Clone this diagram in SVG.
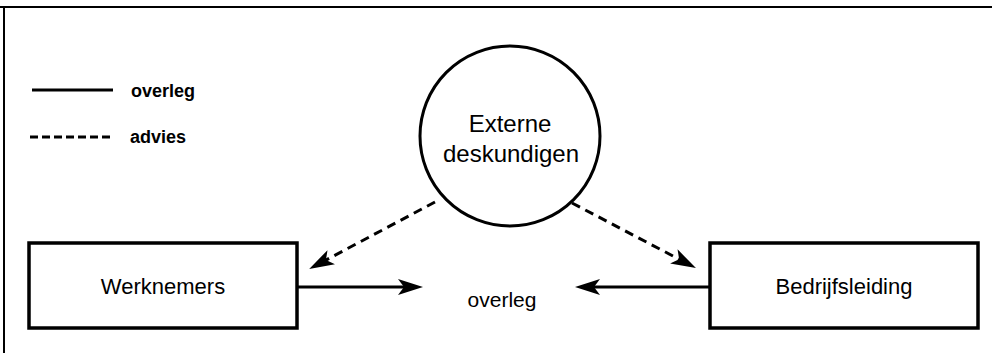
<svg xmlns="http://www.w3.org/2000/svg" width="992" height="353" viewBox="0 0 992 353">
<style>
  .ln { stroke:#000; stroke-width:3; fill:none; }
  .dash { stroke-dasharray:9 6; }
  .box { fill:#fff; stroke:#000; stroke-width:3.5; }
  .t { font-family:"Liberation Sans", Arial, sans-serif; fill:#000; text-anchor:middle; }
  .lg { font-family:"Liberation Sans", Arial, sans-serif; font-weight:bold; font-size:18px; fill:#000; }
</style>
<defs>
  <marker id="ah" viewBox="-36 -9 37 18" markerWidth="37" markerHeight="18" refX="-10" refY="0" orient="auto" markerUnits="userSpaceOnUse">
    <path d="M0,0 L-25,-8 L-19,0 L-25,8 Z" fill="#000"/>
  </marker>
</defs>
<rect width="992" height="353" fill="#fff"/>
<g id="frame">
  <line x1="0" y1="7" x2="992" y2="7" stroke="#000" stroke-width="2"/>
  <line x1="4" y1="6" x2="4" y2="353" stroke="#000" stroke-width="2"/>
</g>
<g id="legend">
  <line class="ln" x1="32" y1="90" x2="113" y2="90"/>
  <text class="lg" x="131" y="97">overleg</text>
  <line class="ln" x1="30" y1="137" x2="113" y2="137" stroke-dasharray="8 4"/>
  <text class="lg" x="130" y="143">advies</text>
</g>
<g id="connectors">
  <line class="ln" x1="298" y1="287" x2="413" y2="287" marker-end="url(#ah)"/>
  <line class="ln" x1="710" y1="287" x2="585" y2="287" marker-end="url(#ah)"/>
  <line class="ln dash" x1="435" y1="202" x2="318" y2="264.3" marker-end="url(#ah)"/>
  <line class="ln dash" x1="572" y1="203" x2="687.1" y2="263.4" marker-end="url(#ah)"/>
</g>
<g id="externe">
  <circle cx="510" cy="136" r="90" fill="none" stroke="#000" stroke-width="3"/>
  <text class="t" x="510" y="132" font-size="24">Externe</text>
  <text class="t" x="511" y="162" font-size="24">deskundigen</text>
</g>
<g id="werknemers">
  <rect class="box" x="29" y="243" width="268" height="85"/>
  <text class="t" x="163" y="294" font-size="22">Werknemers</text>
</g>
<g id="bedrijfsleiding">
  <rect class="box" x="710" y="243" width="268" height="85"/>
  <text class="t" x="844" y="294" font-size="22">Bedrijfsleiding</text>
</g>
<g id="overleg-label">
  <text class="t" x="502" y="307" font-size="21">overleg</text>
</g>
</svg>
